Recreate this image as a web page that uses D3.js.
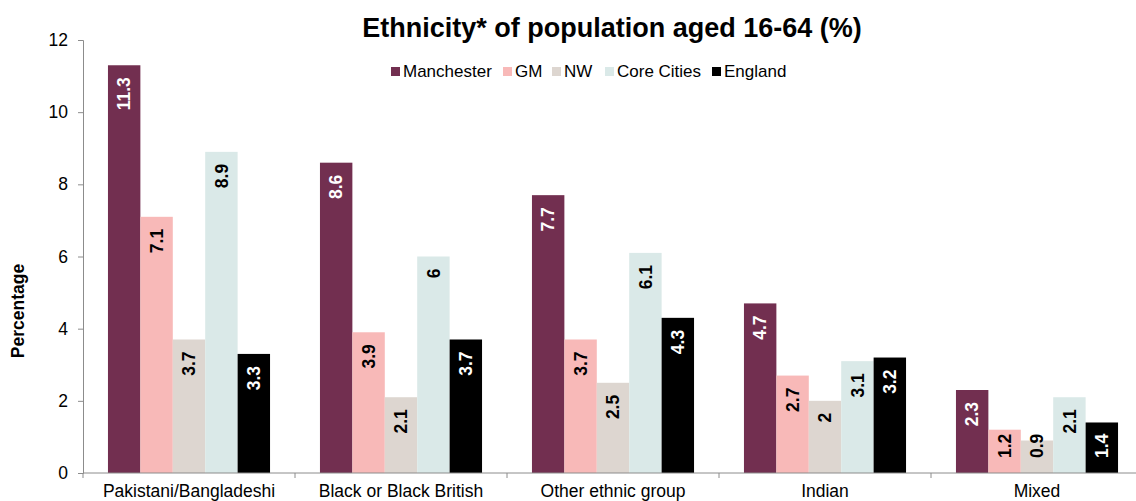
<!DOCTYPE html>
<html>
<head>
<meta charset="utf-8">
<script src="https://cdn.jsdelivr.net/npm/d3@7"></script>
<style>
  html, body { margin: 0; padding: 0; background: #fff; }
  svg { display: block; font-family: "Liberation Sans", Arial, sans-serif; }
</style>
</head>
<body>
<svg id="chart" width="1136" height="501"></svg>
<script>
// Ethnic groups shown along the x axis
const categories = ["Pakistani/Bangladeshi", "Black or Black British", "Other ethnic group", "Indian", "Mixed"];
// Geographies compared within each group
const seriesNames = ["Manchester", "GM", "NW", "Core Cities", "England"];
// Percentage of population aged 16-64, one array per geography
const manchester = [11.3, 8.6, 7.7, 4.7, 2.3];
const gm         = [7.1, 3.9, 3.7, 2.7, 1.2];
const nw         = [3.7, 2.1, 2.5, 2, 0.9];
const coreCities = [8.9, 6, 6.1, 3.1, 2.1];
const england    = [3.3, 3.7, 4.3, 3.2, 1.4];
const yTicks = [0, 2, 4, 6, 8, 10, 12];

const seriesValues = [manchester, gm, nw, coreCities, england];
const colors = ["#722F50", "#F8B9B8", "#DDD6D0", "#DAE9E8", "#000000"];
const labelColors = ["#ffffff", "#000000", "#000000", "#000000", "#ffffff"];

const svg = d3.select("#chart");
const margin = { left: 83, right: -7, top: 40, bottom: 28 };
const width = 1136, height = 501;
const fs = "17.5px";

const x0 = d3.scaleBand().domain(categories)
  .range([margin.left, width - margin.right]).paddingInner(0).paddingOuter(0);
const x1 = d3.scaleBand().domain(seriesNames)
  .range([0, x0.bandwidth()]).paddingOuter(0.77).paddingInner(0);
const y = d3.scaleLinear().domain([0, 12]).range([height - margin.bottom, margin.top]);
const baseY = y(0);

// Title
svg.append("text")
  .attr("x", 612).attr("y", 37)
  .attr("text-anchor", "middle")
  .style("font-size", "27px").style("font-weight", "bold")
  .text("Ethnicity* of population aged 16-64 (%)");

// Y axis
const yAxis = svg.append("g")
  .attr("transform", `translate(${margin.left},0)`)
  .call(d3.axisLeft(y).tickValues(yTicks).tickSize(5).tickPadding(10).tickFormat(d3.format("d")));
yAxis.select(".domain").attr("stroke", "#8c8c8c");
yAxis.selectAll(".tick line").attr("stroke", "#8c8c8c");
yAxis.selectAll(".tick text").style("font-size", fs).attr("fill", "#000");

// Y axis title
svg.append("text")
  .attr("transform", "translate(24,311) rotate(-90)")
  .attr("text-anchor", "middle")
  .style("font-size", fs).style("font-weight", "bold")
  .text("Percentage");

// Bars with rotated value labels inside the bar top
const groups = svg.append("g").selectAll("g")
  .data(categories)
  .join("g")
  .attr("transform", d => `translate(${x0(d)},0)`);

groups.each(function(cat, ci) {
  const g = d3.select(this);
  seriesNames.forEach((s, si) => {
    const v = seriesValues[si][ci];
    g.append("rect")
      .attr("x", x1(s))
      .attr("y", y(v))
      .attr("width", x1.bandwidth())
      .attr("height", baseY - y(v))
      .attr("fill", colors[si]);
    const cx = x1(s) + x1.bandwidth() / 2;
    const label = g.append("text")
      .attr("text-anchor", "end")
      .attr("dy", "0.36em")
      .attr("fill", labelColors[si])
      .style("font-size", fs).style("font-weight", "bold")
      .text(v);
    // short bars: keep the label clear of the baseline
    const len = label.node().getComputedTextLength();
    const endY = Math.min(y(v) + 12, baseY - 15 - len);
    label.attr("transform", `translate(${cx},${endY}) rotate(-90)`);
  });
});

// X axis
const xAxis = svg.append("g");
xAxis.append("line")
  .attr("x1", margin.left).attr("x2", width)
  .attr("y1", baseY).attr("y2", baseY)
  .attr("stroke", "#8c8c8c");
const boundaries = categories.map(c => x0(c)).concat([x0.range()[1]]);
xAxis.selectAll("line.tick").data(boundaries).join("line")
  .attr("class", "tick")
  .attr("x1", d => d).attr("x2", d => d)
  .attr("y1", baseY).attr("y2", baseY + 5)
  .attr("stroke", "#8c8c8c");
xAxis.selectAll("text").data(categories).join("text")
  .attr("x", d => x0(d) + x0.bandwidth() / 2)
  .attr("y", 497)
  .attr("text-anchor", "middle")
  .style("font-size", fs)
  .text(d => d);

// Legend
const legendX = [391, 503, 552, 605, 712];
const legend = svg.append("g");
seriesNames.forEach((s, i) => {
  legend.append("rect")
    .attr("x", legendX[i]).attr("y", 67)
    .attr("width", 9).attr("height", 9)
    .attr("fill", colors[i]);
  legend.append("text")
    .attr("x", legendX[i] + 12).attr("y", 77)
    .style("font-size", "17px")
    .text(s);
});
</script>
</body>
</html>
